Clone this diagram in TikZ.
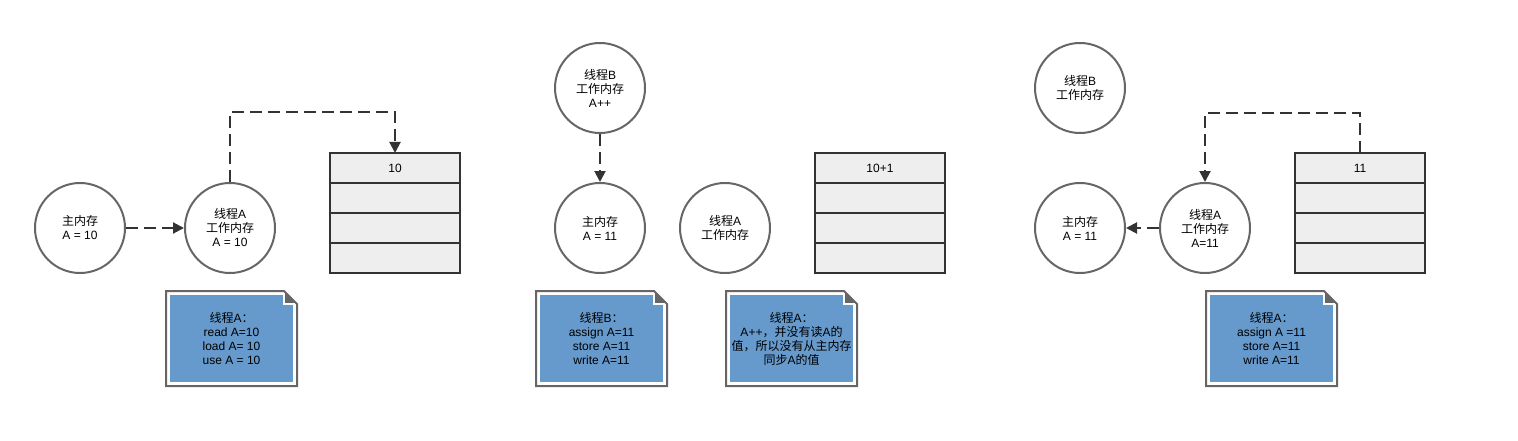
\documentclass[tikz,border=0pt]{standalone}
\usepackage{fontspec}
\setmainfont{Liberation Sans}
\newfontfamily\zh{Noto Sans CJK SC}
\usetikzlibrary{positioning, arrows.meta}
\definecolor{ringgray}{HTML}{666666}
\definecolor{linegray}{HTML}{333333}
\definecolor{cellfill}{HTML}{EEEEEE}
\definecolor{noteblue}{HTML}{6699CC}
\tikzset{
	mem/.style={circle, draw=ringgray, line width=2pt, fill=white, minimum size=90pt, inner sep=0pt, align=center, font=\fontsize{12}{14}\selectfont},
	cell/.style={rectangle, draw=linegray, line width=2pt, fill=cellfill, minimum width=130pt, minimum height=30pt, inner sep=0pt, outer sep=0pt, font=\fontsize{12}{14}\selectfont},
	notebox/.style={rectangle, fill=noteblue, draw=white, line width=2pt, minimum width=125pt, minimum height=89pt, inner sep=0pt, align=center, font=\fontsize{12}{14}\selectfont},
	dashline/.style={linegray, line width=2pt, dash pattern=on 12pt off 6pt, -{Triangle[length=11pt,width=11pt]}},
}
% folded corner and frame round a note
\newcommand\notefold[1]{%
	\fill[white] ([shift={(-11pt,2pt)}]#1.north east) -- ([shift={(2pt,2pt)}]#1.north east) -- ([shift={(2pt,-11pt)}]#1.north east) -- cycle;
	\filldraw[fill=ringgray, draw=white, line width=2pt] ([shift={(-11pt,2pt)}]#1.north east) -- ([shift={(-11pt,-11pt)}]#1.north east) -- ([shift={(2pt,-11pt)}]#1.north east);
	\draw[ringgray, line width=2pt] ([shift={(-2pt,2pt)}]#1.north west) -- ([shift={(-11pt,2pt)}]#1.north east) -- ([shift={(2pt,-11pt)}]#1.north east) -- ([shift={(2pt,-2pt)}]#1.south east) -- ([shift={(-2pt,-2pt)}]#1.south west) -- cycle;
}
\begin{document}
\begin{tikzpicture}[x=1pt, y=1pt]
		\useasboundingbox (0,0) rectangle (1518,440);
		% first step %
		\node[mem] (mainA) at (80,212) {{\zh 主内存}\\A = 10};
		\node[mem, right=58pt of mainA] (thrA) {{\zh 线程}A\\{\zh 工作内存}\\A = 10};
		\node[cell] (cellA1) at (395,272) {10};
		\node[cell, below=0pt of cellA1] (cellA2) {};
		\node[cell, below=0pt of cellA2] (cellA3) {};
		\node[cell, below=0pt of cellA3] (cellA4) {};
		\node[notebox, below=19pt of thrA, xshift=1.5pt] (noteA) {{\zh 线程}A{\zh ：}\\read A=10\\load A= 10\\use A = 10};
		\notefold{noteA}
 
		% second step %
		\node[mem] (thrB2) at (600,352) {{\zh 线程}B\\{\zh 工作内存}\\A++};
		\node[mem, below=48pt of thrB2] (main2) {{\zh 主内存}\\A = 11};
		\node[mem, right=33pt of main2] (thrA2) {{\zh 线程}A\\{\zh 工作内存}};
		\node[cell] (cellB1) at (880,272) {10+1};
		\node[cell, below=0pt of cellB1] (cellB2) {};
		\node[cell, below=0pt of cellB2] (cellB3) {};
		\node[cell, below=0pt of cellB3] (cellB4) {};
		\node[notebox, below=19pt of main2, xshift=1.5pt] (noteB) {{\zh 线程}B{\zh ：}\\assign A=11\\store A=11\\write A=11};
		\notefold{noteB}
		\node[notebox] (noteC) at (791.5,101.5) {{\zh 线程}A{\zh ：}\\A++{\zh ，并没有读}A{\zh 的}\\{\zh 值，所以没有从主内存}\\{\zh 同步}A{\zh 的值}};
		\notefold{noteC}
 
		% third step %
		\node[mem] (thrB3) at (1080,352) {{\zh 线程}B\\{\zh 工作内存}};
		\node[mem, below=48pt of thrB3] (main3) {{\zh 主内存}\\A = 11};
		\node[mem, right=33pt of main3] (thrA3) {{\zh 线程}A\\{\zh 工作内存}\\A=11};
		\node[cell] (cellC1) at (1360,272) {11};
		\node[cell, below=0pt of cellC1] (cellC2) {};
		\node[cell, below=0pt of cellC2] (cellC3) {};
		\node[cell, below=0pt of cellC3] (cellC4) {};
		\node[notebox] (noteD) at (1271.5,101.5) {{\zh 线程}A{\zh ：}\\assign A =11\\store A=11\\write A=11};
		\notefold{noteD}
 
		% edges %
		\draw[dashline] (mainA) -- (thrA);
		\draw[dashline] (thrA.north) -- ++(0,70) -| (cellA1.north);
		\draw[dashline] (thrB2) -- (main2);
		\draw[dashline] (cellC1.north) -- ++(0,40) -| (thrA3.north);
		\draw[dashline] (thrA3) -- (main3);
\end{tikzpicture}
\end{document}
